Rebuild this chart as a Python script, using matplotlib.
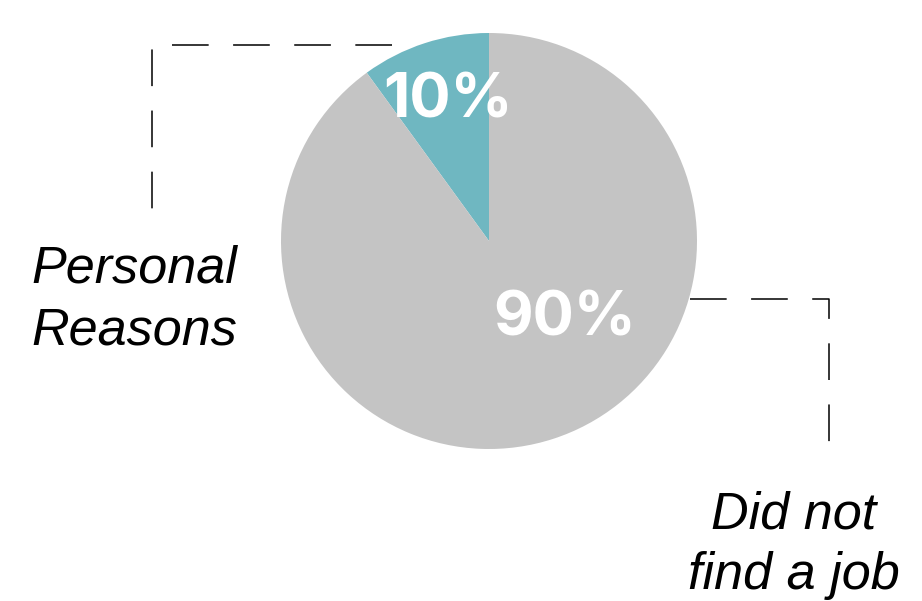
import matplotlib.pyplot as plt

# data
labels = ['Personal\nReasons', 'Did not\nfind a job']
shares = [10, 90]
pct_text = ['10%', '90%']
colors = ['#6FB7C1', '#C4C4C4']

fig = plt.figure(figsize=(9.22, 6.01), dpi=100)
ax = fig.add_axes([0, 0, 1, 1])

cx, cy, r = 489, 360, 208
ax.pie(shares, colors=colors, startangle=90, counterclock=True,
       center=(cx, cy), radius=r, frame=True)
ax.set_xlim(0, 922)
ax.set_ylim(0, 601)
ax.set_aspect('equal')
ax.axis('off')

# percentage labels
ax.text(448, 499, pct_text[0], color='white', fontsize=44, fontweight='bold',
        family='Inter', ha='center', va='center')
ax.text(565, 281, pct_text[1], color='white', fontsize=44, fontweight='bold',
        family='Inter', ha='center', va='center')

# dashed leader lines
ls = dict(color='black', lw=1.1, dashes=(24, 16))
ax.plot([392, 152, 152], [556, 556, 386], **ls)
ax.plot([690, 829, 829], [302, 302, 156], **ls)

# category labels
ax.text(237, 301, labels[0], fontsize=37.5, style='italic', family='Liberation Sans',
        ha='right', va='center', linespacing=1.32)
ax.text(794, 56, labels[1], fontsize=37.5, style='italic', family='Liberation Sans',
        ha='center', va='center', linespacing=1.3)

fig.savefig('out.png', dpi=100)
